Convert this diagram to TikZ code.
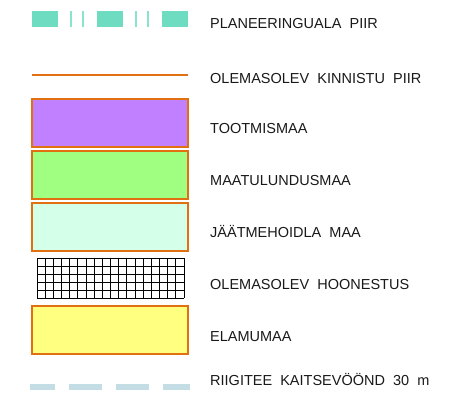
\documentclass[tikz,border=0pt]{standalone}
\usepackage{fontspec}
\setmainfont{Liberation Sans}
\usepackage{tikz}
\usetikzlibrary{calc}

\definecolor{planeer}{RGB}{110,220,192}
\definecolor{piir}{RGB}{224,112,16}
\definecolor{tootmis}{RGB}{192,128,255}
\definecolor{maatul}{RGB}{160,255,128}
\definecolor{jaatme}{RGB}{212,255,232}
\definecolor{elamu}{RGB}{255,255,128}
\definecolor{kaitse}{RGB}{196,220,228}

\begin{document}
\begin{tikzpicture}[x=1pt,y=-1pt,
    swatch/.style={draw=piir,line width=2pt,minimum width=156pt,minimum height=48pt,inner sep=0pt},
    legtext/.style={anchor=base west,inner sep=0pt,text=black!90,font=\fontsize{14.5}{16}\selectfont}]
  \useasboundingbox (0,0) rectangle (462,406);
  % planeeringuala piir
  \foreach \x in {0,65,130}
    \fill[planeer] (32+\x,11) rectangle (58+\x,27);
  \foreach \x in {0,65}{
    \fill[planeer!80] (70+\x,11) rectangle (72+\x,27);
    \fill[planeer!80] (82+\x,11) rectangle (84+\x,27);
  }
  \node[legtext] (planeer) at (210,29) {PLANEERINGUALA\ \ PIIR};
  % kinnistu piir
  \coordinate (piirA) at (32,75);
  \coordinate (piirB) at (188,75);
  \draw[piir,line width=2pt] (piirA) -- (piirB);
  \node[legtext] (kinnistu) at (210,84) {OLEMASOLEV\ \ KINNISTU\ \ PIIR};
  % maakasutus
  \node[swatch,fill=tootmis] (tootbox) at (110,123) {};
  \node[legtext] (toot) at (210,133) {TOOTMISMAA};
  \node[swatch,fill=maatul] (maabox) at (110,175) {};
  \node[legtext] (maa) at (210,185) {MAATULUNDUSMAA};
  \node[swatch,fill=jaatme] (jaatbox) at (110,227) {};
  \node[legtext] (jaat) at (210,237) {JÄÄTMEHOIDLA\ \ MAA};
  % hoonestus
  \foreach \i in {0,...,18}
    \draw[black,line width=0.9pt] (37+\i*8.17,258) -- (37+\i*8.17,298);
  \foreach \j in {0,...,5}
    \draw[black,line width=0.9pt] (37,258+\j*8) -- (184,258+\j*8);
  \node[legtext] (hoone) at (210,289) {OLEMASOLEV\ \ HOONESTUS};
  \node[swatch,fill=elamu] (elabox) at (110,330) {};
  \node[legtext] (ela) at (210,341) {ELAMUMAA};
  % kaitsevoond
  \coordinate (kaitseA) at (30,387);
  \coordinate (kaitseB) at (190,387);
  \draw[kaitse,line width=6pt,dash pattern=on 33pt off 14pt,dash phase=8pt] (kaitseA) -- (kaitseB);
  \node[legtext] (kaitse) at (210,385) {RIIGITEE\ \ KAITSEVÖÖND\ \ 30\ \ m};
\end{tikzpicture}
\end{document}
